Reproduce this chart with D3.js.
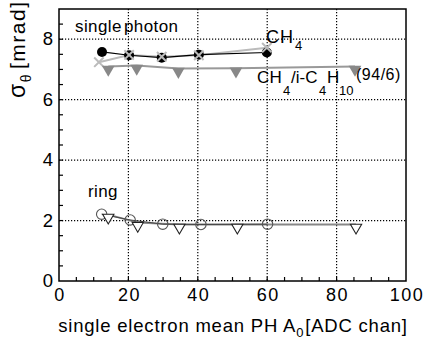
<!DOCTYPE html>
<meta charset="utf-8">
<body style="margin:0;background:#fff">
<script src="https://d3js.org/d3.v7.min.js"></script>
<script>

// single photon, CH4 (black dots) and CH4 (grey crosses)
var photonX = [12.4, 20.2, 29.6, 40.3, 59.9];
var photonY = [7.58, 7.47, 7.39, 7.49, 7.56];
var photonCrossX = [11.5, 20.2, 29.6, 40.3, 59.9];
var photonCrossY = [7.24, 7.48, 7.42, 7.47, 7.72];
// single photon, CH4/i-C4H10
var mixX = [14.2, 22.4, 34.4, 51.0, 85.3];
var mixY = [7.10, 7.13, 7.03, 7.04, 7.10];
// ring
var ringX = [12.3, 20.5, 29.9, 40.9, 60.1];
var ringY = [2.21, 2.02, 1.88, 1.87, 1.88];
var ringMixX = [14.2, 22.7, 34.7, 51.4, 85.6];
var ringMixY = [2.20, 1.93, 1.87, 1.87, 1.87];

var xTicks = [0, 20, 40, 60, 80, 100];
var yTicks = [0, 2, 4, 6, 8];

var margin = {top: 9, left: 59, right: 23, bottom: 60};
var W = 429, H = 341;
var width = W - margin.left - margin.right,
    height = H - margin.top - margin.bottom;

var x = d3.scaleLinear().domain([0, 100]).range([0, width]);
var y = d3.scaleLinear().domain([0, 9]).range([height, 0]);

var svg = d3.select("body").append("svg")
    .attr("width", W).attr("height", H)
    .style("font-family", "Liberation Sans, Arial, sans-serif");

var g = svg.append("g")
    .attr("transform", "translate(" + margin.left + "," + margin.top + ")");

// dotted grid
g.selectAll(".vg").data(xTicks.slice(1, -1)).enter().append("line")
    .attr("x1", d => x(d)).attr("x2", d => x(d))
    .attr("y1", 0).attr("y2", height)
    .attr("stroke", "#000").attr("stroke-width", 1.2).attr("stroke-dasharray", "1.2,1.8");
g.selectAll(".hg").data(yTicks.slice(1)).enter().append("line")
    .attr("x1", 0).attr("x2", width)
    .attr("y1", d => y(d)).attr("y2", d => y(d))
    .attr("stroke", "#000").attr("stroke-width", 1.2).attr("stroke-dasharray", "1.2,1.8");

// minor ticks, inward
g.selectAll(".xm").data(d3.range(5, 100, 5)).enter().append("line")
    .attr("x1", d => x(d)).attr("x2", d => x(d))
    .attr("y1", height).attr("y2", height - 4)
    .attr("stroke", "#000").attr("stroke-width", 1.2);
g.selectAll(".ym").data(d3.range(0.5, 9, 0.5)).enter().append("line")
    .attr("x1", 0).attr("x2", 4)
    .attr("y1", d => y(d)).attr("y2", d => y(d))
    .attr("stroke", "#000").attr("stroke-width", 1.2);

// frame
g.append("rect").attr("width", width).attr("height", height)
    .attr("fill", "none").attr("stroke", "#000").attr("stroke-width", 1.5);

// tick labels
g.selectAll(".xl").data(xTicks).enter().append("text")
    .attr("x", d => x(d) + 1).attr("y", height + 20)
    .attr("text-anchor", "middle").style("font-size", "18px")
    .style("letter-spacing", "1.5px")
    .text(d => d);
g.selectAll(".yl").data(yTicks).enter().append("text")
    .attr("x", -6).attr("y", d => y(d) + 6)
    .attr("text-anchor", "end").style("font-size", "18.5px")
    .text(d => d);

var line = d3.line().x(d => x(d[0])).y(d => y(d[1]));
var zip = (a, b) => a.map((v, i) => [v, b[i]]);

// lines
g.append("path").datum(zip(photonCrossX, photonCrossY)).attr("d", line)
    .attr("fill", "none").attr("stroke", "#bbb").attr("stroke-width", 2);
g.append("path").datum(zip(photonX, photonY)).attr("d", line)
    .attr("fill", "none").attr("stroke", "#000").attr("stroke-width", 1.2);
g.append("path").datum(zip(mixX, mixY)).attr("d", line)
    .attr("fill", "none").attr("stroke", "#999").attr("stroke-width", 2);
g.append("path").datum(zip(ringMixX, ringMixY)).attr("d", line)
    .attr("fill", "none").attr("stroke", "#888").attr("stroke-width", 1.8);
g.append("path").datum(zip(ringX, ringY)).attr("d", line)
    .attr("fill", "none").attr("stroke", "#444").attr("stroke-width", 1);

// markers
var tri = d3.symbol().type(d3.symbolTriangle).size(70);
var triOpen = d3.symbol().type(d3.symbolTriangle).size(55);

g.selectAll(".pc").data(zip(photonX, photonY)).enter().append("circle")
    .attr("cx", d => x(d[0])).attr("cy", d => y(d[1])).attr("r", 5)
    .attr("fill", "#000");
g.selectAll(".px").data(zip(photonCrossX, photonCrossY)).enter().append("path")
    .attr("d", d3.symbol().type(d3.symbolX).size(60))
    .attr("transform", d => "translate(" + x(d[0]) + "," + y(d[1]) + ")")
    .attr("stroke", "#bbb").attr("stroke-width", 2);
g.selectAll(".mt").data(zip(mixX, mixY)).enter().append("path")
    .attr("d", tri)
    .attr("transform", d => "translate(" + x(d[0]) + "," + (y(d[1]) + 3) + ") rotate(180)")
    .attr("fill", "#888");
g.selectAll(".rc").data(zip(ringX, ringY)).enter().append("circle")
    .attr("cx", d => x(d[0])).attr("cy", d => y(d[1])).attr("r", 5.2)
    .attr("fill", "none").attr("stroke", "#555").attr("stroke-width", 1.1);
g.selectAll(".rt").data(zip(ringMixX, ringMixY)).enter().append("path")
    .attr("d", triOpen)
    .attr("transform", d => "translate(" + x(d[0]) + "," + (y(d[1]) + 3) + ") rotate(180)")
    .attr("fill", "#fff").attr("stroke", "#222").attr("stroke-width", 1.1);

// annotations
svg.append("text").attr("x", 75).attr("y", 32).style("font-size", "17px")
    .style("letter-spacing", "0.4px").style("word-spacing", "-3px").text("single photon");
svg.append("text").attr("x", 88).attr("y", 197).style("font-size", "17px")
    .style("letter-spacing", "0.4px").text("ring");

var ch4 = svg.append("text").attr("x", 266).attr("y", 43).style("font-size", "18px")
    .style("letter-spacing", "1px");
ch4.append("tspan").text("CH");
ch4.append("tspan").attr("dx", 1).attr("dy", 7).style("font-size", "13px").text("4");

// CH4/i-C4H10 label, pieces placed like the original lettering
var mix = svg.append("text").style("font-size", "17px");
mix.append("tspan").attr("x", 257).attr("y", 83).style("letter-spacing", "0.3px").text("CH");
mix.append("tspan").attr("x", 283).attr("y", 95).style("font-size", "13px").text("4");
mix.append("tspan").attr("x", 291).attr("y", 83).text("/i-C");
mix.append("tspan").attr("x", 319).attr("y", 95).style("font-size", "13px").text("4");
mix.append("tspan").attr("x", 327).attr("y", 83).text("H");
mix.append("tspan").attr("x", 339).attr("y", 95).style("font-size", "13px").text("10");
svg.append("text").attr("x", 356).attr("y", 80).style("font-size", "16px")
    .style("letter-spacing", "0.5px").text("(94/6)");

// axis titles
var xt = svg.append("text").attr("x", 233).attr("y", 332)
    .attr("text-anchor", "middle").style("font-size", "18.5px")
    .style("letter-spacing", "0.8px");
xt.append("tspan").text("single electron mean PH A");
xt.append("tspan").attr("dy", 5).style("font-size", "13px").text("0");
xt.append("tspan").attr("dy", -5).attr("dx", 1).text("[ADC chan]");

var yt = svg.append("text").attr("transform", "translate(25,98) rotate(-90)")
    .style("font-size", "21px").style("letter-spacing", "1.5px");
yt.append("tspan").style("font-size", "23px").text("σ");
yt.append("tspan").attr("dy", 6).style("font-size", "14px").text("θ");
yt.append("tspan").attr("dy", -6).attr("dx", 4).text("[mrad]");

</script>
</body>
